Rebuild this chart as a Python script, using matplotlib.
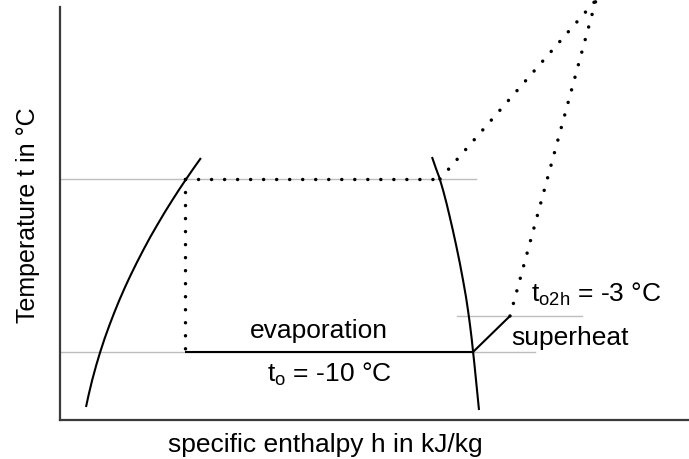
import matplotlib
matplotlib.use("Agg")
import matplotlib.pyplot as plt

# --- schematic data (arbitrary h / t units) ---
# saturated liquid line (left)
liq_h = [26.0, 28.6, 32.2, 36.3, 40.2, 44.8, 49.5, 54.5, 59.4, 65.1, 70.7,
         77.1, 83.3, 90.3, 97.2, 104.9, 112.4, 119.5, 126.2, 133.8, 140.9]
liq_t = [13, 25, 40, 55, 68, 82, 95, 108, 120, 133, 145,
         158, 170, 183, 195, 208, 220, 231, 241, 252, 262]
# saturated vapour line (right)
vap_h = [372.0, 375.8, 379.5, 383.3, 386.7, 389.8, 392.8, 396.3, 399.8, 403.0,
         406.0, 408.1, 410.0, 411.6, 413.0, 414.5, 416.0, 417.5, 419.0]
vap_t = [263, 252, 242, 229, 216, 203, 190, 174, 157, 140,
         123, 109, 95, 82, 69, 55, 40, 25, 10]

# temperature levels
t_evap = 68          # t_o = -10 °C
t_superheat = 104    # t_o2h = -3 °C
t_cond = 241         # condensing level

# enthalpy points of the cycle
h_evap_in = 125      # after throttling
h_evap_out = 413     # saturated vapour at t_o
h_superheat = 450    # end of superheat
h_cond_vap = 380     # saturated vapour at condensing level
comp_end = (536, 420)  # compressor end point (above the frame)

# extents of the thin grey helper lines
grey_cond = (0, 416)
grey_evap = (0, 475)
grey_superheat = (397, 522)

plt.rcParams['font.family'] = ['Liberation Sans', 'DejaVu Sans']
plt.rcParams['mathtext.fontset'] = 'custom'
plt.rcParams['mathtext.rm'] = 'Liberation Sans'
plt.rcParams['mathtext.it'] = 'Liberation Sans:italic'

fig = plt.figure(figsize=(6.89, 4.59), dpi=100)
ax = fig.add_axes([60 / 689, 39 / 459, 629 / 689, 413 / 459])
ax.set_xlim(0, 629)
ax.set_ylim(0, 413)

# axes frame: only left and bottom
for side in ['top', 'right']:
    ax.spines[side].set_visible(False)
for side in ['left', 'bottom']:
    ax.spines[side].set_color('#3a3a3a')
    ax.spines[side].set_linewidth(1.6)
ax.set_xticks([])
ax.set_yticks([])

grey = dict(color='#bdbdbd', lw=1.0, zorder=1)
ax.plot(grey_cond, [t_cond, t_cond], **grey)
ax.plot(grey_evap, [t_evap, t_evap], **grey)
ax.plot(grey_superheat, [t_superheat, t_superheat], **grey)

solid = dict(color='black', lw=1.5, zorder=3, solid_capstyle='butt',
             solid_joinstyle='round')
ax.plot(liq_h, liq_t, **solid)
ax.plot(vap_h, vap_t, **solid)
ax.plot([h_evap_in, h_evap_out], [t_evap, t_evap], **solid)
ax.plot([h_evap_out, h_superheat], [t_evap, t_superheat], **solid)

# dotted lines: round dots roughly 13 px apart
dots = dict(color='black', lw=2.5, linestyle=(0, (0.01, 3.74)),
            dash_capstyle='round', zorder=2, clip_on=False)
ax.plot([h_evap_in, h_cond_vap], [t_cond, t_cond], **dots)
ax.plot([h_evap_in, h_evap_in], [t_cond, t_evap], **dots)
ax.plot([h_cond_vap, comp_end[0]], [t_cond, comp_end[1]], **dots)
ax.plot([h_superheat, comp_end[0]], [t_superheat, comp_end[1]], **dots)

# labels inside the diagram
fs = 19
ax.text(259, 82, 'evaporation', fontsize=fs, ha='center', va='baseline')
ax.text(269, 38, r't$_\mathrm{o}$ = -10 °C', fontsize=fs, ha='center', va='baseline')
ax.text(471, 118, r't$_\mathrm{o2h}$ = -3 °C', fontsize=fs, ha='left', va='baseline')
ax.text(451, 75, 'superheat', fontsize=fs, ha='left', va='baseline')

# axis titles
fig.text(325 / 689, 7 / 459, 'specific enthalpy h in kJ/kg', fontsize=fs,
         ha='center', va='baseline')
fig.text(28 / 689, 1 - 215 / 459, 'Temperature t in °C', fontsize=18,
         rotation=90, ha='center', va='center')

fig.savefig('out.png', dpi=100)
